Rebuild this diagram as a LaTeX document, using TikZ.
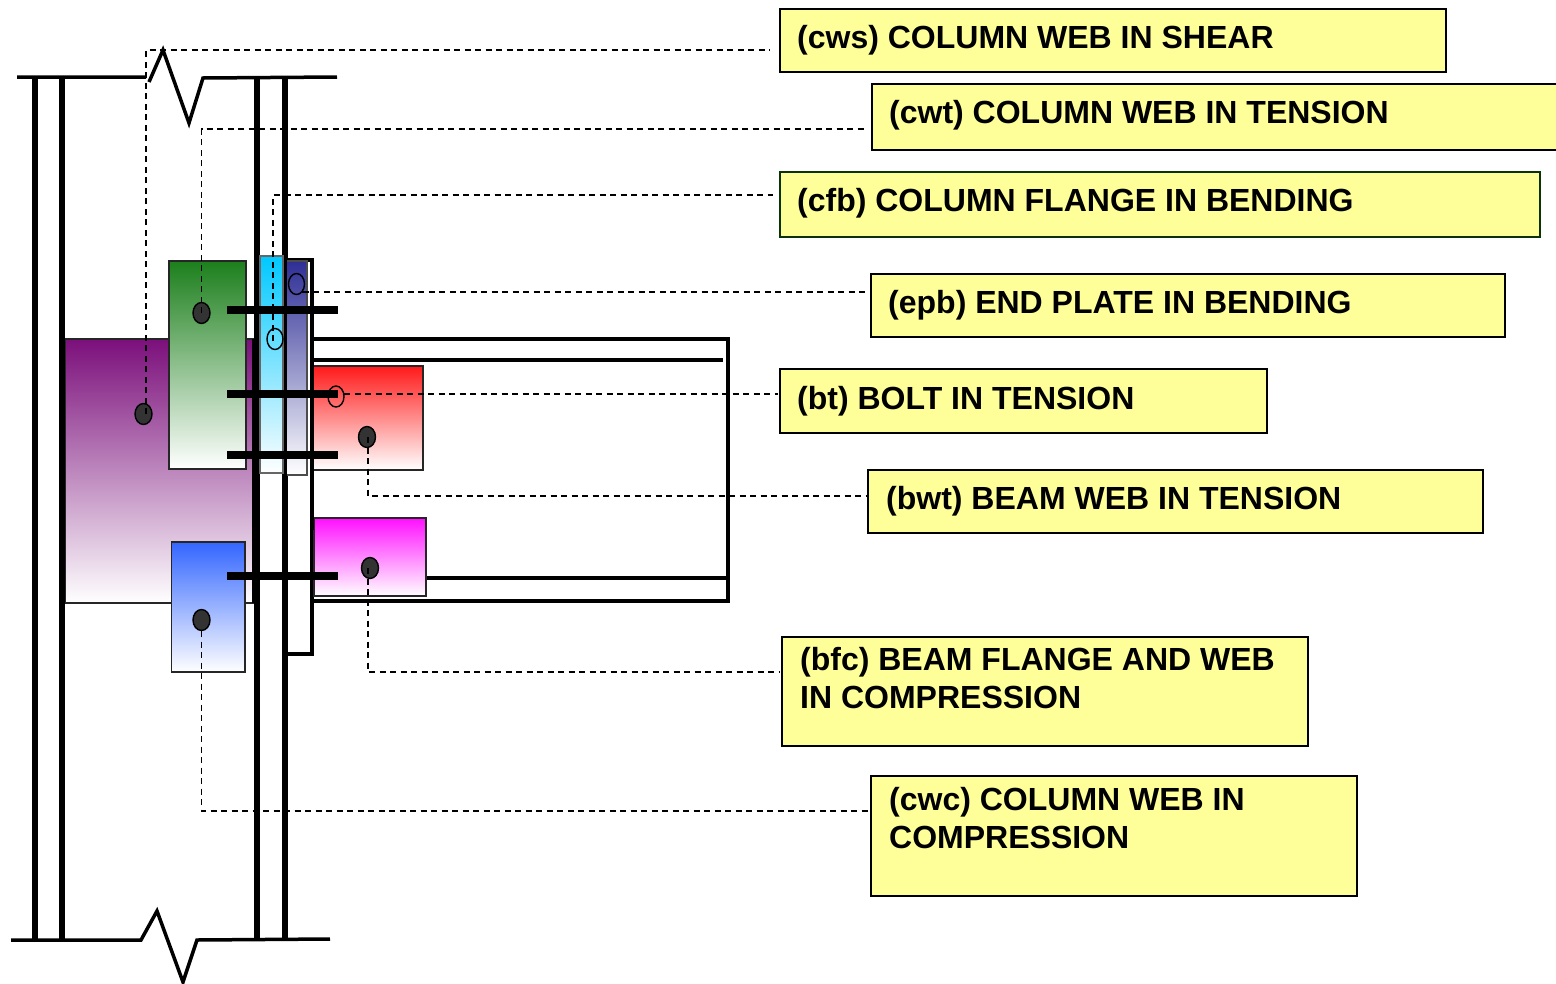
\documentclass[tikz,border=0pt]{standalone}
\usepackage{fontspec}
\setmainfont{Liberation Sans}
\usetikzlibrary{shapes.geometric}
\definecolor{lblyellow}{HTML}{FFFF99}
\definecolor{cpurple}{HTML}{7B0F7B}
\definecolor{cgreen}{HTML}{1C7F1C}
\definecolor{ccyan}{HTML}{00C8FF}
\definecolor{cnavy}{HTML}{2E2E96}
\definecolor{cred}{HTML}{FF1A1A}
\definecolor{cmag}{HTML}{FF10FF}
\definecolor{cblue}{HTML}{3366FF}
\definecolor{dotfill}{HTML}{333333}
\tikzset{
  x=1pt,y=-1pt,
  steel/.style={line width=5.5pt,black},
  thinsteel/.style={line width=3.5pt,black},
  zigzag/.style={line width=3.5pt,black,line join=miter},
  boltbar/.style={line width=8pt,black},
  comp/.style={draw=black!85,line width=1.6pt,bottom color=white},
  lead/.style={black,line width=1.3pt,dash pattern=on 6pt off 4.5pt},
  labelbox/.style={draw=black,line width=1.6pt,fill=lblyellow,anchor=north west,inner sep=0pt},
  labeltext/.style={anchor=base west,inner sep=0pt,font=\fontsize{32}{38}\selectfont\bfseries,align=left},
  solid dot/.style={ellipse,draw=black,line width=1.4pt,fill=dotfill,minimum width=17pt,minimum height=21pt,inner sep=0pt},
  open dot/.style={ellipse,draw=black,line width=1.4pt,minimum width=16pt,minimum height=21pt,inner sep=0pt},
}
\begin{document}
\begin{tikzpicture}
\useasboundingbox (0,0) rectangle (1556,983);
\clip (0,0) rectangle (1556,983);
% purple zone
\path[draw=black!85,line width=1.4pt,top color=cpurple,bottom color=white] (65,339) rectangle (254,603);
% column
\draw[steel] (35,77) -- (35,940);
\draw[steel] (62,77) -- (62,940);
\draw[steel] (257,77) -- (257,940);
\draw[steel] (285,77) -- (285,940);
\draw[line width=3pt] (253.5,339) -- (253.5,603);
\draw[zigzag] (17,77) -- (146,77) (149,82) -- (163,50) -- (189,123) -- (203,78) -- (337,77);
\draw[zigzag] (11,940) -- (141,940) -- (157,911) -- (183,982) -- (197,940) -- (330,939);
% end plate and beam
\draw[thinsteel] (285,260) -- (312,260) -- (312,654) -- (285,654);
\draw[thinsteel] (313,339) -- (728,339) -- (728,601) -- (313,601);
\draw[line width=4.5pt] (313,360) -- (723,360);
\draw[line width=4.5pt] (426,578) -- (728,578);
% coloured zones
\path[comp,top color=cgreen] (169,261) rectangle (246,469);
\path[comp,top color=cblue] (171.5,542) rectangle (245,672);
\path[comp,top color=ccyan,draw=black!60] (260,256) rectangle (283,473);
\path[comp,top color=cnavy,draw=black!70] (285,261) rectangle (307,475);
\path[comp,top color=cred] (312,366) rectangle (423,470);
\path[comp,top color=cmag] (314,518) rectangle (426,596);
\draw[line width=3pt] (285,256) -- (285,480);
\draw[line width=3pt] (312,350) -- (312,530);
% label boxes
\node[labelbox,minimum width=666pt,minimum height=63pt] (cws) at (779,8) {};
\node[labelbox,minimum width=700pt,minimum height=66pt] (cwt) at (871,83) {};
\node[labelbox,draw=black!60!cgreen,minimum width=760pt,minimum height=65pt] (cfb) at (779,171) {};
\node[labelbox,minimum width=634pt,minimum height=63pt] (epb) at (870,273) {};
\node[labelbox,minimum width=487pt,minimum height=64pt] (bt) at (779,368) {};
\node[labelbox,minimum width=615pt,minimum height=63pt] (bwt) at (867,469) {};
\node[labelbox,minimum width=526pt,minimum height=109pt] (bfc) at (781,636) {};
\node[labelbox,minimum width=486pt,minimum height=120pt] (cwc) at (870,775) {};
\node[labeltext] (cwsT) at (797,48) {(cws) COLUMN WEB IN SHEAR};
\node[labeltext] (cwtT) at (889,123) {(cwt) COLUMN WEB IN TENSION};
\node[labeltext] (cfbT) at (797,211) {(cfb) COLUMN FLANGE IN BENDING};
\node[labeltext] (epbT) at (888,313) {(epb) END PLATE IN BENDING};
\node[labeltext] (btT) at (797,409) {(bt) BOLT IN TENSION};
\node[labeltext] (bwtT) at (886,509) {(bwt) BEAM WEB IN TENSION};
\node[labeltext,anchor=north west] (bfcT) at (800,647) {(bfc) BEAM FLANGE AND WEB\\IN COMPRESSION};
\node[labeltext,anchor=north west] (cwcT) at (889,787) {(cwc) COLUMN WEB IN\\COMPRESSION};
% markers
\node[solid dot] (dcws) at (143.5,414) {};
\node[solid dot] (dcwt) at (201.5,313) {};
\node[open dot] (dcfb) at (275,339) {};
\node[open dot] (depb) at (296.5,284) {};
\node[open dot] (dbt) at (336,396.5) {};
\node[solid dot] (dbwt) at (367,437) {};
\node[solid dot] (dbfc) at (370,568) {};
\node[solid dot] (dcwc) at (201.5,620) {};
% bolts
\draw[boltbar] (227,310) -- (338,310);
\draw[boltbar] (227,394) -- (338,394);
\draw[boltbar] (227,455) -- (338,455);
\draw[boltbar] (227,576) -- (338,576);
% leaders
\coordinate (ecws) at (770,50);
\coordinate (ecwt) at (868,129);
\coordinate (ecfb) at (773,195);
\coordinate (eepb) at (868,292);
\coordinate (ebt) at (778,394);
\coordinate (ebwt) at (866,496);
\coordinate (ebfc) at (780,672);
\coordinate (ecwc) at (868,811);
\draw[lead] ([xshift=2.5pt]dcws.center) -- ([xshift=2.5pt]dcws.center |- ecws) -- (ecws);
\draw[lead] (dcwt.center) |- (ecwt);
\draw[lead] ([xshift=-2pt,yshift=-2pt]dcfb.center) -- ([xshift=-2pt]dcfb.center |- ecfb) -- (ecfb);
\draw[lead] (depb.south east) -- ++(2,0) -| (depb.south east) (depb.south east) |- (eepb);
\draw[lead] ([xshift=8pt]dbt.center |- ebt) -- (ebt);
\draw[lead] ([xshift=1pt]dbwt.center) |- (ebwt);
\draw[lead] ([xshift=-2pt]dbfc.center) |- (ebfc);
\draw[lead] (dcwc.south) |- (ecwc);
\end{tikzpicture}
\end{document}
